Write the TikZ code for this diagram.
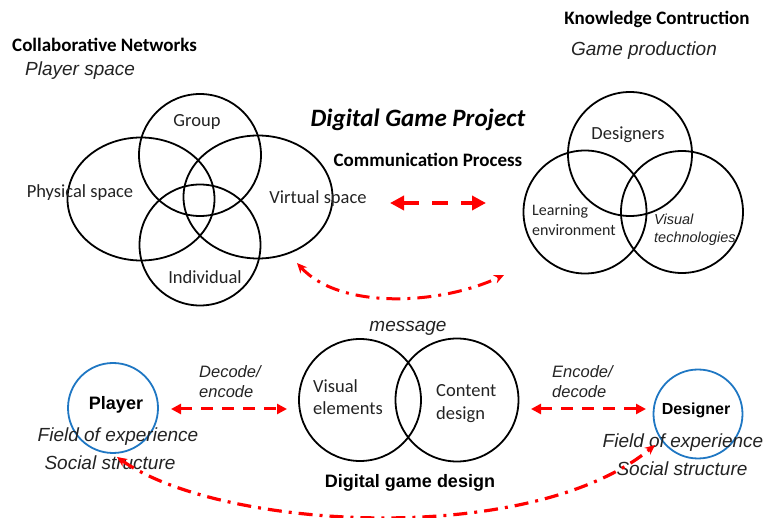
\documentclass[tikz,border=0pt]{standalone}
\usepackage{fontspec}
\setmainfont{Carlito}
\newfontfamily\arial{Liberation Sans}
\usetikzlibrary{shapes.geometric,arrows.meta}
\definecolor{cblue}{RGB}{31,119,195}
\definecolor{txt}{RGB}{35,35,35}
\tikzset{
  bigtip/.tip={Triangle[length=14pt,width=14pt]},
  smtip/.tip={Triangle[length=10pt,width=10pt]},
  dtip/.tip={Stealth[length=10pt,width=9pt]}}
\begin{document}
\begin{tikzpicture}[x=1pt,y=-1pt,
  ring/.style={circle,draw=black,line width=1.8pt,inner sep=0pt,minimum size=#1},
  oval/.style={ellipse,draw=black,line width=1.8pt,inner sep=0pt},
  bring/.style={circle,draw=cblue,line width=1.8pt,inner sep=0pt,minimum size=90pt},
  cal/.style={text=txt,inner sep=0pt,font=\fontsize{18.5}{21}\selectfont},
  calb/.style={text=black,inner sep=0pt,font=\fontsize{19}{21}\selectfont\bfseries},
  ari/.style={text=txt,inner sep=0pt,font=\arial\fontsize{19}{22}\selectfont\itshape},
  arib/.style={text=black,inner sep=0pt,font=\arial\fontsize{18}{21}\selectfont\bfseries},
  redd/.style={draw=red,line width=3pt,dash pattern=on 16pt off 13pt},
  reddd/.style={draw=red,line width=3pt,dash pattern=on 14pt off 7pt on 3pt off 7pt}]
\useasboundingbox (0,0) rectangle (766,518);

% ---- left Venn ----
\node[ring=122pt] (group) at (200,155) {};
\node[ring=121pt] (indiv) at (200,245) {};
\node[oval,minimum width=147pt,minimum height=123pt] (phys) at (141,199) {};
\node[oval,minimum width=149pt,minimum height=123pt] (virt) at (258,197) {};
\node[cal] (tgroup) at (197,122) {Group};
\node[cal] (tphys) at (80,193) {Physical space};
\node[cal] (tvirt) at (318,199) {Virtual space};
\node[cal] (tindiv) at (205,277) {Individual};
\node[calb,anchor=west] (tcoll) at (12,45) {Collaborative Networks};
\node[ari,anchor=west] (tpls) at (25,71) {Player space};

% ---- centre titles ----
\node[text=black,inner sep=0pt,font=\fontsize{25}{28}\selectfont\bfseries\itshape] (tdgp) at (418,120) {Digital Game Project};
\node[calb] (tcomm) at (428,160) {Communication Process};
\coordinate (ml) at (390,203);
\coordinate (mr) at (486,203);
\draw[redd,line width=4pt,{bigtip}-{bigtip}] (ml) -- (mr);

% ---- right Venn ----
\node[ring=124pt] (des) at (630,154) {};
\node[ring=123pt] (learn) at (585,212) {};
\node[ring=122pt] (vistech) at (682,212) {};
\node[cal] (tdes) at (628,135) {Designers};
\node[cal,anchor=west,align=left,font=\fontsize{16}{20}\selectfont] (tlearn) at (532,220) {Learning\\environment};
\node[ari,anchor=west,align=left,font=\arial\fontsize{14.5}{18}\selectfont\itshape] (tvis) at (654,230) {Visual\\technologies};
\node[calb] (tknow) at (657,19) {Knowledge Contruction};
\node[ari] (tgp) at (644,51) {Game production};

% top dash-dot curve
\coordinate (c1) at (297,263);
\coordinate (c2) at (504,275);
\draw[reddd,{dtip}-{dtip}] (c1) .. controls (340,310) and (440,305) .. (c2);

% ---- bottom ----
\node[bring] (player) at (113,408) {};
\node[arib] (tplayer) at (116,405) {Player};
\node[ari] (tfe1) at (118,437) {Field of experience};
\node[ari] (tss1) at (110,463) {Social structure};

\node[ring=122pt] (vel) at (360,400) {};
\node[ring=123pt] (cdes) at (457,400) {};
\node[cal,anchor=west,align=left,font=\fontsize{18.5}{22}\selectfont] (tvel) at (313,397) {Visual\\elements};
\node[cal,anchor=west,align=left,font=\fontsize{18.5}{23}\selectfont] (tcd) at (436,404) {Content\\design};
\node[ari] (tmsg) at (408,328) {message};
\node[arib] (tdgd) at (410,483) {Digital game design};

\node[bring,minimum size=89pt] (designer) at (698,414) {};
\node[arib,font=\arial\fontsize{16}{19}\selectfont\bfseries] (tdesigner) at (696,410) {Designer};
\node[ari] (tfe2) at (683,443) {Field of experience};
\node[ari] (tss2) at (682,469) {Social structure};

\node[ari,anchor=west,align=left,font=\arial\fontsize{16.5}{20}\selectfont\itshape] (tdec) at (199,382) {Decode/\\encode};
\node[ari,anchor=west,align=left,font=\arial\fontsize{16.5}{20}\selectfont\itshape] (tenc) at (552,382) {Encode/\\decode};

\coordinate (a1) at (171,409);
\coordinate (a2) at (287,409);
\coordinate (b1) at (531,409);
\coordinate (b2) at (646,409);
\draw[redd,line width=3pt,dash pattern=on 12pt off 9pt,{smtip}-{smtip}] (a1) -- (a2);
\draw[redd,line width=3pt,dash pattern=on 12pt off 9pt,{smtip}-{smtip}] (b1) -- (b2);

% bottom dash-dot curve
\coordinate (e1) at (117,457);
\coordinate (e2) at (655,445);
\draw[reddd,line width=3.2pt,{dtip}-{dtip}] (e1) .. controls (220,530) and (530,548) .. (e2);
\end{tikzpicture}
\end{document}
